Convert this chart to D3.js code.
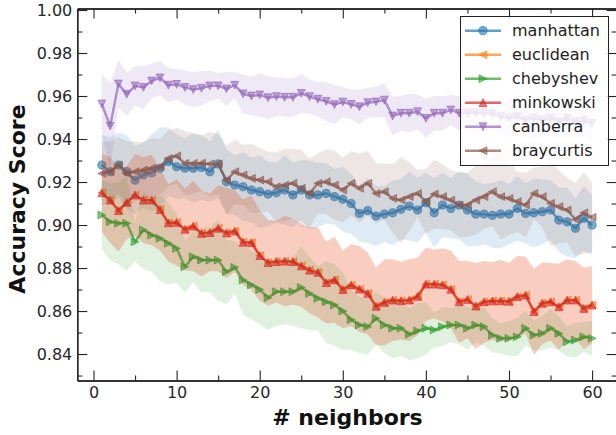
<!DOCTYPE html>
<html>
<head>
<meta charset="utf-8">
<script src="https://cdn.jsdelivr.net/npm/d3@7"></script>
<style>
  body { margin: 0; background: #fff; }
  svg text { font-family: "DejaVu Sans", sans-serif; }
</style>
</head>
<body>
<svg id="chart"></svg>
<script>
// # neighbors (x values)
var neighbors = [1,2,3,4,5,6,7,8,9,10,11,12,13,14,15,16,17,18,19,20,
                 21,22,23,24,25,26,27,28,29,30,31,32,33,34,35,36,37,38,39,40,
                 41,42,43,44,45,46,47,48,49,50,51,52,53,54,55,56,57,58,59,60];

// mean accuracy per metric
var manhattan = [0.9279,0.9248,0.9279,0.9248,0.9209,0.9233,0.9243,0.9264,0.9295,0.9271,
                 0.9264,0.9264,0.9268,0.9248,0.9284,0.9201,0.9186,0.9178,0.9163,0.9155,
                 0.9144,0.9150,0.9163,0.9140,0.9163,0.9140,0.9140,0.9147,0.9132,0.9120,
                 0.9100,0.9054,0.9067,0.9042,0.9051,0.9057,0.9073,0.9088,0.9070,0.9104,
                 0.9057,0.9093,0.9077,0.9093,0.9070,0.9051,0.9051,0.9045,0.9051,0.9051,
                 0.9077,0.9054,0.9057,0.9062,0.9070,0.9023,0.9015,0.8985,0.9031,0.9000];
var minkowski = [0.9150,0.9116,0.9067,0.9105,0.9140,0.9116,0.9116,0.9072,0.9010,0.9012,
                 0.8980,0.8995,0.8961,0.8965,0.8985,0.8963,0.8972,0.8920,0.8918,0.8858,
                 0.8825,0.8830,0.8832,0.8830,0.8810,0.8790,0.8780,0.8732,0.8745,0.8700,
                 0.8721,0.8702,0.8682,0.8622,0.8640,0.8651,0.8648,0.8651,0.8668,0.8725,
                 0.8725,0.8722,0.8701,0.8643,0.8654,0.8623,0.8643,0.8647,0.8647,0.8645,
                 0.8667,0.8674,0.8597,0.8636,0.8643,0.8620,0.8651,0.8651,0.8612,0.8628];
var euclidean = [0.9150,0.9116,0.9067,0.9105,0.9140,0.9116,0.9116,0.9072,0.9010,0.9012,
                 0.8980,0.8995,0.8961,0.8965,0.8985,0.8963,0.8972,0.8920,0.8918,0.8858,
                 0.8825,0.8830,0.8832,0.8830,0.8810,0.8790,0.8780,0.8732,0.8745,0.8700,
                 0.8721,0.8702,0.8682,0.8622,0.8640,0.8651,0.8648,0.8651,0.8668,0.8725,
                 0.8725,0.8722,0.8701,0.8643,0.8654,0.8623,0.8643,0.8647,0.8647,0.8645,
                 0.8667,0.8674,0.8597,0.8636,0.8643,0.8620,0.8651,0.8651,0.8612,0.8628];
var chebyshev = [0.9047,0.9015,0.9008,0.9008,0.8922,0.8977,0.8953,0.8938,0.8915,0.8891,
                 0.8806,0.8853,0.8837,0.8837,0.8837,0.8783,0.8803,0.8744,0.8721,0.8700,
                 0.8662,0.8690,0.8690,0.8690,0.8710,0.8682,0.8659,0.8643,0.8628,0.8600,
                 0.8560,0.8535,0.8527,0.8566,0.8535,0.8520,0.8520,0.8492,0.8508,0.8520,
                 0.8512,0.8527,0.8535,0.8535,0.8520,0.8535,0.8527,0.8488,0.8473,0.8473,
                 0.8480,0.8520,0.8488,0.8496,0.8520,0.8496,0.8457,0.8465,0.8480,0.8473];
var canberra  = [0.9563,0.9460,0.9656,0.9608,0.9647,0.9640,0.9670,0.9684,0.9650,0.9654,
                 0.9640,0.9630,0.9636,0.9647,0.9647,0.9633,0.9650,0.9610,0.9600,0.9605,
                 0.9592,0.9597,0.9594,0.9594,0.9612,0.9597,0.9585,0.9575,0.9560,0.9572,
                 0.9561,0.9550,0.9569,0.9573,0.9581,0.9507,0.9520,0.9520,0.9527,0.9496,
                 0.9520,0.9520,0.9535,0.9520,0.9522,0.9522,0.9520,0.9518,0.9505,0.9498,
                 0.9504,0.9488,0.9496,0.9488,0.9496,0.9480,0.9496,0.9480,0.9485,0.9473];
var braycurtis = [0.9240,0.9248,0.9279,0.9240,0.9248,0.9256,0.9264,0.9271,0.9310,0.9321,
                  0.9287,0.9287,0.9288,0.9284,0.9284,0.9209,0.9248,0.9233,0.9217,0.9209,
                  0.9201,0.9178,0.9186,0.9194,0.9171,0.9147,0.9194,0.9201,0.9186,0.9163,
                  0.9194,0.9171,0.9194,0.9147,0.9155,0.9124,0.9116,0.9132,0.9147,0.9109,
                  0.9144,0.9132,0.9116,0.9093,0.9093,0.9116,0.9132,0.9155,0.9132,0.9124,
                  0.9109,0.9093,0.9147,0.9132,0.9101,0.9085,0.9070,0.9026,0.9057,0.9036];

// standard deviation (shaded band half-width)
var manhattanStd = [0.014,0.016,0.015,0.017,0.016,0.015,0.018,0.019,0.016,0.015,
                    0.014,0.016,0.015,0.014,0.016,0.015,0.014,0.016,0.015,0.017,
                    0.015,0.014,0.016,0.015,0.014,0.016,0.015,0.014,0.013,0.015,
                    0.014,0.013,0.015,0.014,0.013,0.015,0.014,0.016,0.015,0.014,
                    0.016,0.015,0.014,0.016,0.017,0.015,0.014,0.015,0.016,0.014,
                    0.015,0.014,0.016,0.015,0.014,0.015,0.016,0.014,0.015,0.014];
var minkowskiStd = [0.018,0.020,0.019,0.017,0.019,0.020,0.021,0.019,0.018,0.020,
                    0.019,0.021,0.020,0.018,0.020,0.021,0.019,0.020,0.022,0.021,
                    0.020,0.019,0.021,0.020,0.019,0.020,0.021,0.019,0.020,0.018,
                    0.019,0.020,0.019,0.018,0.020,0.019,0.018,0.019,0.018,0.017,
                    0.016,0.017,0.018,0.019,0.018,0.020,0.019,0.018,0.019,0.018,
                    0.019,0.018,0.020,0.019,0.018,0.020,0.019,0.018,0.019,0.018];
var euclideanStd = [0.018,0.020,0.019,0.017,0.019,0.020,0.021,0.019,0.018,0.020,
                    0.019,0.021,0.020,0.018,0.020,0.021,0.019,0.020,0.022,0.021,
                    0.020,0.019,0.021,0.020,0.019,0.020,0.021,0.019,0.020,0.018,
                    0.019,0.020,0.019,0.018,0.020,0.019,0.018,0.019,0.018,0.017,
                    0.016,0.017,0.018,0.019,0.018,0.020,0.019,0.018,0.019,0.018,
                    0.019,0.018,0.020,0.019,0.018,0.020,0.019,0.018,0.019,0.018];
var chebyshevStd = [0.016,0.018,0.019,0.022,0.009,0.018,0.017,0.020,0.019,0.016,
                    0.012,0.012,0.015,0.015,0.019,0.015,0.012,0.016,0.016,0.016,
                    0.015,0.016,0.015,0.016,0.019,0.017,0.015,0.019,0.019,0.018,
                    0.014,0.013,0.013,0.012,0.013,0.014,0.013,0.012,0.013,0.012,
                    0.008,0.009,0.008,0.009,0.010,0.008,0.009,0.008,0.007,0.008,
                    0.009,0.008,0.007,0.008,0.009,0.008,0.007,0.008,0.007,0.008];
var canberraStd  = [0.014,0.020,0.011,0.010,0.009,0.010,0.008,0.008,0.008,0.007,
                    0.008,0.008,0.008,0.007,0.006,0.008,0.006,0.009,0.009,0.010,
                    0.010,0.009,0.009,0.009,0.009,0.008,0.008,0.009,0.009,0.007,
                    0.007,0.008,0.007,0.007,0.008,0.009,0.008,0.009,0.008,0.009,
                    0.008,0.008,0.007,0.008,0.008,0.009,0.008,0.007,0.008,0.009,
                    0.008,0.008,0.009,0.008,0.007,0.008,0.009,0.008,0.008,0.009];
var braycurtisStd = [0.015,0.014,0.013,0.015,0.014,0.013,0.014,0.013,0.013,0.013,
                     0.015,0.014,0.013,0.015,0.014,0.016,0.015,0.014,0.016,0.015,
                     0.014,0.016,0.017,0.016,0.018,0.016,0.014,0.015,0.016,0.015,
                     0.015,0.016,0.015,0.014,0.013,0.016,0.020,0.016,0.011,0.015,
                     0.016,0.015,0.014,0.015,0.015,0.016,0.015,0.016,0.020,0.017,
                     0.014,0.015,0.012,0.014,0.020,0.017,0.015,0.017,0.019,0.016];

// ticks
var xMajorTicks = [0, 10, 20, 30, 40, 50, 60];
var xMinorTicks = [5, 15, 25, 35, 45, 55];
var yMajorTicks = [0.84, 0.86, 0.88, 0.90, 0.92, 0.94, 0.96, 0.98, 1.00];
var yMinorTicks = [0.83, 0.85, 0.87, 0.89, 0.91, 0.93, 0.95, 0.97, 0.99];

var dimensions = {
    width: 616,
    height: 435,
    plot: { left: 77.3, right: 616.6, top: 8.5, bottom: 380.5 }
};

var metrics = [
    { name: "manhattan",  mean: manhattan,  std: manhattanStd,  color: "#1f77b4", marker: "circle" },
    { name: "euclidean",  mean: euclidean,  std: euclideanStd,  color: "#ff7f0e", marker: "left" },
    { name: "chebyshev",  mean: chebyshev,  std: chebyshevStd,  color: "#2ca02c", marker: "right" },
    { name: "minkowski",  mean: minkowski,  std: minkowskiStd,  color: "#d62728", marker: "up" },
    { name: "canberra",   mean: canberra,   std: canberraStd,   color: "#9467bd", marker: "down" },
    { name: "braycurtis", mean: braycurtis, std: braycurtisStd, color: "#8c564b", marker: "left" }
];

var svg = d3.select("#chart")
    .attr("width", dimensions.width)
    .attr("height", dimensions.height);

svg.append("rect")
    .attr("width", dimensions.width)
    .attr("height", dimensions.height)
    .attr("fill", "white");

var xScale = d3.scaleLinear()
    .domain([-1.95, 62.95])
    .range([dimensions.plot.left, dimensions.plot.right]);

var yScale = d3.scaleLinear()
    .domain([0.8277, 1.0007])
    .range([dimensions.plot.bottom, dimensions.plot.top]);

svg.append("clipPath")
    .attr("id", "plotclip")
    .append("rect")
    .attr("x", dimensions.plot.left)
    .attr("y", dimensions.plot.top)
    .attr("width", dimensions.plot.right - dimensions.plot.left)
    .attr("height", dimensions.plot.bottom - dimensions.plot.top);

// marker shapes (matplotlib style: o < > ^ v)
function markerPath(type) {
    var r = 3.9;
    if (type === "circle") return d3.symbol(d3.symbolCircle, Math.PI * 4.1 * 4.1)();
    if (type === "up")    return `M0,${-r}L${r},${r}L${-r},${r}Z`;
    if (type === "down")  return `M0,${r}L${-r},${-r}L${r},${-r}Z`;
    if (type === "left")  return `M${-r},0L${r},${-r}L${r},${r}Z`;
    if (type === "right") return `M${r},0L${-r},${r}L${-r},${-r}Z`;
}

var plotArea = svg.append("g").attr("clip-path", "url(#plotclip)");

var line = d3.line()
    .x(d => xScale(d.k))
    .y(d => yScale(d.v));

var band = d3.area()
    .x(d => xScale(d.k))
    .y0(d => yScale(d.v - d.s))
    .y1(d => yScale(d.v + d.s));

metrics.forEach(function(m) {
    var points = neighbors.map((k, i) => ({ k: k, v: m.mean[i], s: m.std[i] }));

    var g = plotArea.append("g").attr("class", "metric " + m.name);

    g.append("path")
        .datum(points)
        .attr("d", line)
        .attr("fill", "none")
        .attr("stroke", m.color)
        .attr("stroke-opacity", 0.7)
        .attr("stroke-width", 2.4)
        .attr("stroke-linejoin", "round");

    g.selectAll(".marker")
        .data(points)
        .enter()
        .append("path")
        .attr("class", "marker")
        .attr("transform", d => `translate(${xScale(d.k)},${yScale(d.v)})`)
        .attr("d", markerPath(m.marker))
        .attr("fill", m.color)
        .attr("fill-opacity", 0.6)
        .attr("stroke", m.color)
        .attr("stroke-opacity", 0.7)
        .attr("stroke-width", 0.9);

    g.append("path")
        .datum(points)
        .attr("d", band)
        .attr("fill", m.color)
        .attr("fill-opacity", 0.15)
        .attr("stroke", "none");
});

// axes, ticks pointing inward on all four sides
var axisColor = "#262626";

function styleAxis(sel) {
    sel.selectAll(".domain").attr("stroke", axisColor).attr("stroke-width", 1.3);
    sel.selectAll(".tick line").attr("stroke", axisColor).attr("stroke-width", 1.1);
    sel.selectAll("text")
        .attr("fill", "#262626")
        .style("font-family", "'DejaVu Sans', sans-serif")
        .style("font-size", "16px");
}

// bottom
svg.append("g")
    .attr("transform", `translate(0,${dimensions.plot.bottom})`)
    .call(d3.axisBottom(xScale).tickValues(xMinorTicks).tickSize(-5).tickSizeOuter(0).tickFormat(""))
    .call(styleAxis);
svg.append("g")
    .attr("transform", `translate(0,${dimensions.plot.bottom})`)
    .call(d3.axisBottom(xScale).tickValues(xMajorTicks).tickSize(-10).tickSizeOuter(0).tickPadding(6).tickFormat(d3.format("d")))
    .call(styleAxis);

// top
svg.append("g")
    .attr("transform", `translate(0,${dimensions.plot.top})`)
    .call(d3.axisTop(xScale).tickValues(xMinorTicks).tickSize(-5).tickSizeOuter(0).tickFormat(""))
    .call(styleAxis);
svg.append("g")
    .attr("transform", `translate(0,${dimensions.plot.top})`)
    .call(d3.axisTop(xScale).tickValues(xMajorTicks).tickSize(-10).tickSizeOuter(0).tickFormat(""))
    .call(styleAxis);

// left
svg.append("g")
    .attr("transform", `translate(${dimensions.plot.left},0)`)
    .call(d3.axisLeft(yScale).tickValues(yMinorTicks).tickSize(-5).tickSizeOuter(0).tickFormat(""))
    .call(styleAxis);
svg.append("g")
    .attr("transform", `translate(${dimensions.plot.left},0)`)
    .call(d3.axisLeft(yScale).tickValues(yMajorTicks).tickSize(-10).tickSizeOuter(0).tickPadding(5).tickFormat(d3.format(".2f")))
    .call(styleAxis);

// right
svg.append("g")
    .attr("transform", `translate(${dimensions.plot.right},0)`)
    .call(d3.axisRight(yScale).tickValues(yMinorTicks).tickSize(-5).tickSizeOuter(0).tickFormat(""))
    .call(styleAxis);
svg.append("g")
    .attr("transform", `translate(${dimensions.plot.right},0)`)
    .call(d3.axisRight(yScale).tickValues(yMajorTicks).tickSize(-10).tickSizeOuter(0).tickFormat(""))
    .call(styleAxis);

// axis titles
svg.append("text")
    .attr("x", 347.5)
    .attr("y", 425)
    .attr("text-anchor", "middle")
    .attr("font-weight", "bold")
    .attr("font-size", "22px")
    .attr("fill", "#111")
    .text("# neighbors");

svg.append("text")
    .attr("transform", "translate(25,199) rotate(-90)")
    .attr("text-anchor", "middle")
    .attr("font-weight", "bold")
    .attr("font-size", "22px")
    .attr("fill", "#111")
    .text("Accuracy Score");

// legend
var legend = svg.append("g").attr("class", "legend");

legend.append("rect")
    .attr("x", 460.5)
    .attr("y", 16.5)
    .attr("width", 148)
    .attr("height", 149)
    .attr("fill", "white")
    .attr("fill-opacity", 0.8)
    .attr("stroke", "#222")
    .attr("stroke-width", 1);

var legendItem = legend.selectAll(".item")
    .data(metrics)
    .enter()
    .append("g")
    .attr("class", "item")
    .attr("transform", (d, i) => `translate(0, ${30.7 + i * 24})`);

legendItem.append("line")
    .attr("x1", 465)
    .attr("x2", 501)
    .attr("stroke", d => d.color)
    .attr("stroke-opacity", 0.7)
    .attr("stroke-width", 2.4);

legendItem.append("path")
    .attr("transform", "translate(483,0)")
    .attr("d", d => markerPath(d.marker))
    .attr("fill", d => d.color)
    .attr("fill-opacity", 0.6)
    .attr("stroke", d => d.color)
    .attr("stroke-opacity", 0.7)
    .attr("stroke-width", 0.9);

legendItem.append("text")
    .attr("x", 512)
    .attr("dy", "0.35em")
    .attr("font-size", "16px")
    .attr("fill", "#222")
    .text(d => d.name);
</script>
</body>
</html>
